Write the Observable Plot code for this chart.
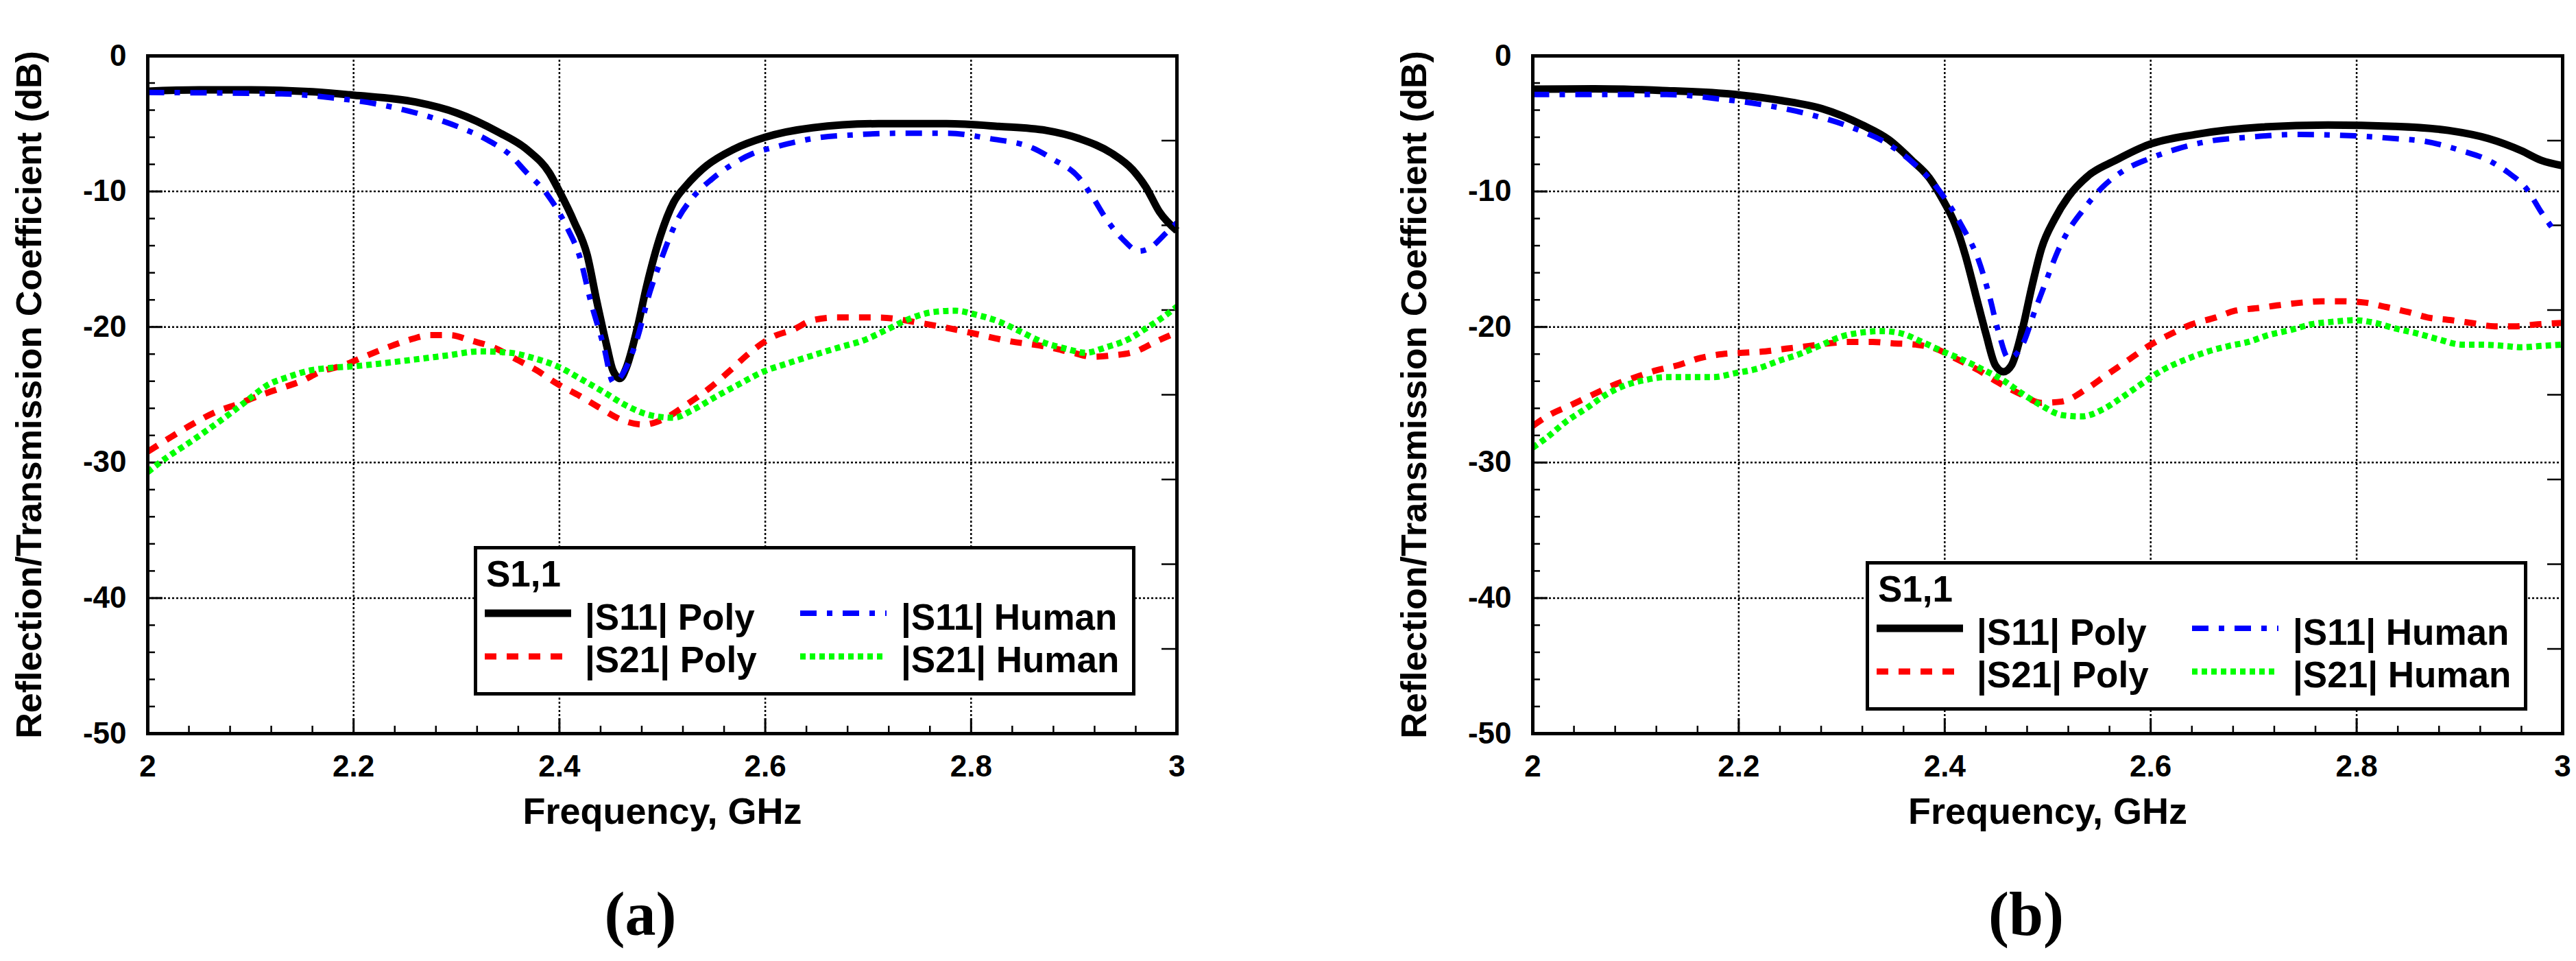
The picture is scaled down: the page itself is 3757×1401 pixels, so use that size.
<!DOCTYPE html>
<html>
<head>
<meta charset="utf-8">
<script src="https://cdn.jsdelivr.net/npm/d3@7"></script>
<script src="https://cdn.jsdelivr.net/npm/@observablehq/plot@0.6"></script>
<style>
  html, body { margin: 0; padding: 0; background: #fff; }
  #page { position: relative; width: 3757px; height: 1401px; background: #fff; overflow: hidden; }
  .panel { position: absolute; top: 0; }
  .legend { position: absolute; width: 965px; height: 218px; border: 5px solid #000; box-sizing: border-box; background: #fff;
            font-family: "Liberation Sans", Arial, sans-serif; font-weight: bold; font-size: 53px; line-height: 53px; color: #000; }
  .legend div { position: absolute; white-space: nowrap; }
  .legend svg { position: absolute; overflow: visible; }
  .caption { position: absolute; font-family: "Liberation Serif", "Times New Roman", serif; font-weight: bold; font-size: 90px; line-height: 90px;
             transform: translateX(-50%); white-space: nowrap; color: #000; }
</style>
</head>
<body>
<div id="page">
  <div class="panel" id="pa" style="left:0px"></div>
  <div class="panel" id="pb" style="left:1878px"></div>
</div>
<script>
// ---------------- data ----------------
const xTicks = [2, 2.2, 2.4, 2.6, 2.8, 3];
const yTicks = [0, -10, -20, -30, -40, -50];
const gridX = [2.2, 2.4, 2.6, 2.8];
const gridY = [-10, -20, -30, -40];

const xLabel = "Frequency, GHz";
const yLabel = "Reflection/Transmission Coefficient (dB)";
const legendTitle = "S1,1";
const seriesNames = ["|S11| Poly", "|S11| Human", "|S21| Poly", "|S21| Human"];
const panelCaptions = ["(a)", "(b)"];

// Panel (a): [frequency GHz, dB]
const aS11Poly = [[2.0,-2.6],[2.05,-2.5],[2.1,-2.5],[2.16,-2.65],[2.2,-2.9],[2.26,-3.4],[2.3,-4.2],[2.34,-5.6],[2.37,-7.0],[2.39,-8.6],[2.4,-10.0],[2.414,-12.2],[2.427,-14.7],[2.436,-18.0],[2.446,-21.4],[2.452,-23.2],[2.459,-23.8],[2.465,-23.0],[2.475,-20.3],[2.485,-16.9],[2.498,-13.3],[2.511,-10.8],[2.524,-9.5],[2.543,-8.1],[2.569,-6.9],[2.6,-6.0],[2.646,-5.3],[2.71,-5.0],[2.776,-5.0],[2.827,-5.2],[2.873,-5.5],[2.905,-6.1],[2.937,-7.2],[2.957,-8.4],[2.97,-9.7],[2.983,-11.5],[3.0,-12.9]];
const aS11Human = [[2.0,-2.7],[2.13,-2.8],[2.18,-3.1],[2.226,-3.6],[2.265,-4.3],[2.304,-5.3],[2.33,-6.2],[2.352,-7.3],[2.368,-8.6],[2.388,-10.2],[2.407,-12.6],[2.42,-14.9],[2.43,-18.0],[2.443,-21.4],[2.4525,-24.1],[2.462,-23.4],[2.475,-21.0],[2.488,-17.4],[2.498,-15.2],[2.514,-12.2],[2.53,-10.4],[2.548,-9.1],[2.566,-8.1],[2.588,-7.2],[2.611,-6.7],[2.646,-6.1],[2.692,-5.8],[2.737,-5.7],[2.776,-5.7],[2.818,-6.1],[2.86,-6.8],[2.879,-7.6],[2.905,-9.0],[2.918,-10.4],[2.931,-12.0],[2.947,-13.5],[2.963,-14.4],[2.973,-14.2],[2.989,-13.1],[3.0,-12.3]];
const aS21Poly = [[2.0,-29.2],[2.023,-28.1],[2.045,-27.1],[2.065,-26.3],[2.087,-25.7],[2.107,-25.1],[2.126,-24.6],[2.149,-24.0],[2.168,-23.3],[2.191,-22.8],[2.21,-22.2],[2.233,-21.5],[2.252,-21.0],[2.275,-20.6],[2.294,-20.6],[2.314,-21.0],[2.336,-21.5],[2.356,-22.3],[2.378,-23.2],[2.398,-24.2],[2.42,-25.1],[2.44,-26.0],[2.462,-26.9],[2.482,-27.2],[2.501,-26.8],[2.524,-25.7],[2.546,-24.5],[2.566,-23.2],[2.585,-21.9],[2.608,-20.7],[2.627,-20.2],[2.646,-19.5],[2.669,-19.3],[2.711,-19.3],[2.75,-19.7],[2.792,-20.3],[2.834,-21.0],[2.876,-21.5],[2.899,-21.9],[2.918,-22.2],[2.937,-22.1],[2.96,-21.8],[2.979,-21.1],[3.0,-20.4]];
const aS21Human = [[2.0,-30.7],[2.019,-29.6],[2.039,-28.6],[2.058,-27.6],[2.078,-26.5],[2.097,-25.4],[2.116,-24.3],[2.136,-23.7],[2.158,-23.2],[2.181,-23.0],[2.2,-22.9],[2.226,-22.7],[2.259,-22.4],[2.291,-22.1],[2.323,-21.8],[2.352,-21.9],[2.375,-22.3],[2.398,-22.9],[2.42,-23.8],[2.443,-24.8],[2.465,-25.8],[2.488,-26.5],[2.511,-26.7],[2.53,-26.1],[2.553,-25.1],[2.575,-24.2],[2.598,-23.3],[2.621,-22.7],[2.646,-22.1],[2.672,-21.5],[2.695,-21.0],[2.718,-20.2],[2.74,-19.4],[2.763,-18.9],[2.785,-18.8],[2.805,-19.1],[2.827,-19.6],[2.847,-20.3],[2.869,-21.1],[2.892,-21.6],[2.911,-21.9],[2.931,-21.5],[2.953,-20.9],[2.97,-20.1],[2.986,-19.3],[3.0,-18.5]];

// Panel (b)
const bS11Poly = [[2.0,-2.45],[2.06,-2.43],[2.126,-2.55],[2.19,-2.8],[2.242,-3.3],[2.281,-3.9],[2.32,-5.1],[2.346,-6.2],[2.368,-7.7],[2.385,-9.0],[2.398,-10.6],[2.41,-12.4],[2.42,-14.7],[2.43,-17.6],[2.44,-20.5],[2.449,-22.8],[2.457,-23.3],[2.465,-22.8],[2.475,-20.3],[2.485,-16.9],[2.494,-14.2],[2.507,-12.0],[2.52,-10.4],[2.54,-8.8],[2.566,-7.7],[2.598,-6.55],[2.643,-5.8],[2.708,-5.25],[2.772,-5.1],[2.837,-5.2],[2.889,-5.5],[2.928,-6.1],[2.96,-7.0],[2.979,-7.7],[3.0,-8.1]];
const bS11Human = [[2.0,-2.85],[2.13,-2.85],[2.184,-3.2],[2.223,-3.6],[2.268,-4.3],[2.307,-5.2],[2.349,-6.7],[2.368,-7.8],[2.388,-9.3],[2.401,-10.6],[2.417,-12.6],[2.433,-15.1],[2.443,-17.6],[2.452,-20.3],[2.462,-22.3],[2.475,-21.4],[2.488,-18.7],[2.498,-16.7],[2.511,-14.2],[2.52,-12.9],[2.533,-11.5],[2.553,-9.7],[2.575,-8.4],[2.598,-7.6],[2.624,-6.9],[2.656,-6.3],[2.695,-6.0],[2.74,-5.8],[2.798,-5.9],[2.837,-6.1],[2.866,-6.3],[2.902,-7.0],[2.928,-7.7],[2.947,-8.6],[2.966,-9.9],[2.979,-11.5],[2.995,-13.2]];
const bS21Poly = [[2.0,-27.3],[2.016,-26.5],[2.036,-25.8],[2.058,-25.0],[2.078,-24.3],[2.1,-23.7],[2.12,-23.2],[2.142,-22.8],[2.162,-22.3],[2.184,-22.0],[2.204,-21.9],[2.226,-21.8],[2.246,-21.6],[2.268,-21.4],[2.288,-21.2],[2.307,-21.1],[2.33,-21.1],[2.349,-21.2],[2.372,-21.3],[2.391,-21.6],[2.41,-22.3],[2.433,-23.2],[2.452,-24.1],[2.475,-25.0],[2.494,-25.6],[2.514,-25.5],[2.537,-24.6],[2.556,-23.6],[2.579,-22.4],[2.598,-21.4],[2.62,-20.5],[2.64,-19.8],[2.663,-19.3],[2.682,-18.8],[2.705,-18.6],[2.724,-18.4],[2.747,-18.2],[2.766,-18.1],[2.785,-18.1],[2.808,-18.2],[2.827,-18.5],[2.85,-18.9],[2.869,-19.3],[2.892,-19.5],[2.911,-19.7],[2.934,-19.95],[2.953,-19.95],[2.976,-19.8],[3.0,-19.7]];
const bS21Human = [[2.0,-28.9],[2.013,-28.2],[2.032,-27.0],[2.052,-26.0],[2.071,-25.0],[2.09,-24.3],[2.11,-23.9],[2.129,-23.7],[2.152,-23.7],[2.175,-23.7],[2.197,-23.4],[2.217,-23.1],[2.239,-22.5],[2.259,-22.0],[2.281,-21.3],[2.3,-20.7],[2.32,-20.4],[2.339,-20.3],[2.359,-20.5],[2.378,-21.1],[2.398,-21.8],[2.417,-22.4],[2.436,-23.1],[2.456,-23.9],[2.475,-24.9],[2.494,-25.8],[2.514,-26.5],[2.533,-26.6],[2.553,-26.1],[2.572,-25.2],[2.591,-24.2],[2.611,-23.2],[2.634,-22.4],[2.656,-21.8],[2.676,-21.4],[2.695,-21.1],[2.714,-20.6],[2.737,-20.2],[2.756,-19.8],[2.779,-19.6],[2.798,-19.5],[2.818,-19.7],[2.837,-20.1],[2.86,-20.5],[2.879,-20.9],[2.902,-21.3],[2.921,-21.3],[2.944,-21.4],[2.96,-21.5],[2.979,-21.4],[3.0,-21.3]];

// ---------------- styles ----------------
const lineStyles = [
  {stroke: "#000000", strokeWidth: 11, strokeDasharray: null},
  {stroke: "#0000ff", strokeWidth: 8, strokeDasharray: "24,15,8,15"},
  {stroke: "#ff0000", strokeWidth: 9, strokeDasharray: "17,15"},
  {stroke: "#00ff00", strokeWidth: 9, strokeDasharray: "8,6"}
];

const minorY = d3.range(-48, 0, 2).filter(v => v % 10 !== 0);
const minorX = d3.range(1, 25).map(i => +(2 + i * 0.04).toFixed(2)).filter(v => Math.abs(v * 5 - Math.round(v * 5)) > 1e-6);
const rightTicks = [-6.25, -12.5, -18.75, -25, -31.25, -37.5, -43.75];

function makePanel(series, width, marginLeft, marginRight) {
  const H = 1230, mTop = 81, mBottom = 1230 - 1069;
  const innerW = width - marginLeft - marginRight;
  const pxX = 1 / innerW;              // GHz per pixel
  const pxY = 50 / (H - mTop - mBottom); // dB per pixel
  const order = [0, 2, 1, 3];
  return Plot.plot({
    width, height: H,
    marginLeft, marginRight, marginTop: mTop, marginBottom: mBottom,
    x: {domain: [2, 3]},
    y: {domain: [-50, 0]},
    style: {fontFamily: "'Liberation Sans', Arial, sans-serif", fontWeight: "bold", fontSize: "44px", background: "#fff", color: "#000", overflow: "visible"},
    marks: [
      Plot.ruleX(gridX, {x: d => d, stroke: "#000", strokeWidth: 2.5, strokeDasharray: "3,3"}),
      Plot.ruleY(gridY, {y: d => d, stroke: "#000", strokeWidth: 2.5, strokeDasharray: "3,3"}),
      Plot.ruleY(minorY, {y: d => d, x1: 2, x2: 2 + 11 * pxX, stroke: "#000", strokeWidth: 2.5}),
      Plot.ruleY(gridY, {y: d => d, x1: 2, x2: 2 + 22 * pxX, stroke: "#000", strokeWidth: 3}),
      Plot.ruleY(rightTicks, {y: d => d, x1: 3 - 22 * pxX, x2: 3, stroke: "#000", strokeWidth: 2.5}),
      Plot.ruleX(minorX, {x: d => d, y1: -50, y2: -50 + 11 * pxY, stroke: "#000", strokeWidth: 2.5}),
      Plot.ruleX(gridX, {x: d => d, y1: -50, y2: -50 + 22 * pxY, stroke: "#000", strokeWidth: 3}),
      ...order.map(i => Plot.line(series[i], {
        x: d => d[0], y: d => d[1], curve: "monotone-x",
        stroke: lineStyles[i].stroke, strokeWidth: lineStyles[i].strokeWidth,
        strokeDasharray: lineStyles[i].strokeDasharray, strokeLinecap: "butt", strokeLinejoin: "round"
      })),
      Plot.frame({stroke: "#000", strokeWidth: 5}),
      Plot.axisX({ticks: xTicks, tickSize: 0, tickPadding: 31, tickFormat: d => String(d), label: null, fontSize: 44}),
      Plot.axisY({ticks: yTicks, tickSize: 0, tickPadding: 31, tickFormat: d => String(d), label: null, fontSize: 44}),
      Plot.text([xLabel], {text: d => d, frameAnchor: "bottom", dy: 114, textAnchor: "middle", lineAnchor: "middle", fontSize: 54}),
      Plot.text([yLabel], {text: d => d, frameAnchor: "left", dx: -172, rotate: -90, textAnchor: "middle", lineAnchor: "middle", fontSize: 52})
    ]
  });
}

document.getElementById("pa").appendChild(makePanel([aS11Poly, aS11Human, aS21Poly, aS21Human], 1878, 215, 162));
document.getElementById("pb").appendChild(makePanel([bS11Poly, bS11Human, bS21Poly, bS21Human], 1879, 357, 20));

// ---------------- legends & captions ----------------
function addLegend(left, top) {
  const box = document.createElement("div");
  box.className = "legend";
  box.style.left = left + "px";
  box.style.top = top + "px";
  const t = document.createElement("div");
  t.textContent = legendTitle; t.style.left = "13px"; t.style.top = "9px";
  box.appendChild(t);
  const cols = [{sx: 11, tx: 157}, {sx: 471, tx: 618}];
  const rows = [{cy: 93, ty: 72}, {cy: 156, ty: 134}];
  const layout = [[0,0],[1,0],[0,1],[1,1]]; // [col,row] per series
  seriesNames.forEach((name, i) => {
    const [c, r] = layout[i];
    const st = lineStyles[i];
    const svg = document.createElementNS("http://www.w3.org/2000/svg", "svg");
    svg.setAttribute("width", 126); svg.setAttribute("height", 20);
    svg.style.left = cols[c].sx + "px"; svg.style.top = (rows[r].cy - 10) + "px";
    const ln = document.createElementNS("http://www.w3.org/2000/svg", "line");
    ln.setAttribute("x1", 0); ln.setAttribute("x2", 126); ln.setAttribute("y1", 10); ln.setAttribute("y2", 10);
    ln.setAttribute("stroke", st.stroke); ln.setAttribute("stroke-width", st.strokeWidth);
    if (st.strokeDasharray) ln.setAttribute("stroke-dasharray", st.strokeDasharray);
    svg.appendChild(ln);
    box.appendChild(svg);
    const lab = document.createElement("div");
    lab.textContent = name; lab.style.left = cols[c].tx + "px"; lab.style.top = rows[r].ty + "px";
    box.appendChild(lab);
  });
  document.getElementById("page").appendChild(box);
}
addLegend(691, 796);
addLegend(2721, 818);

[[934, panelCaptions[0]], [2955, panelCaptions[1]]].forEach(([cx, txt]) => {
  const d = document.createElement("div");
  d.className = "caption"; d.textContent = txt;
  d.style.left = cx + "px"; d.style.top = "1288px";
  document.getElementById("page").appendChild(d);
});
</script>
</body>
</html>
